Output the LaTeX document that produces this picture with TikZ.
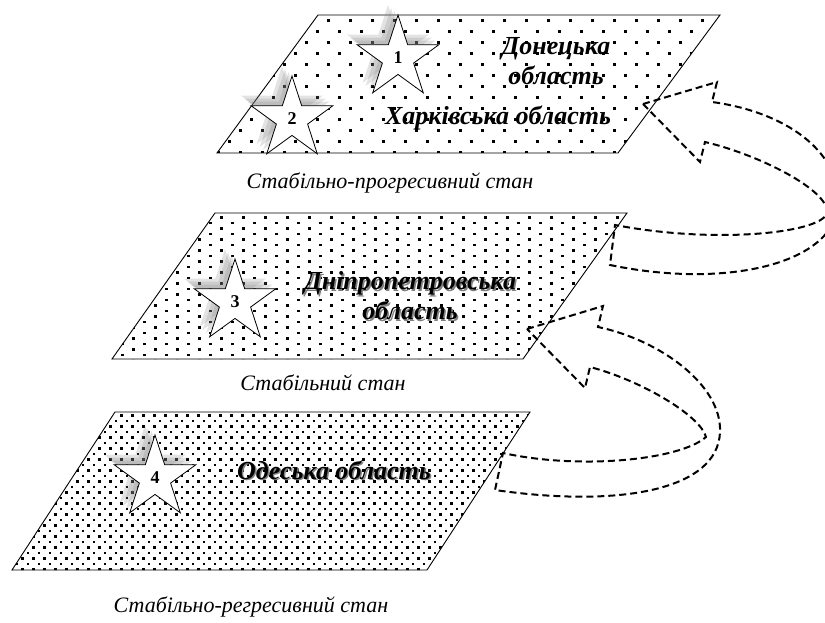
\documentclass[tikz,border=0pt]{standalone}
\usepackage{fontspec}
\setmainfont{Liberation Serif}
\usetikzlibrary{shapes.geometric}
\usetikzlibrary{positioning}

\tikzset{
  plane/.style={draw=black, line width=0.9pt},
  zirka/.style={star, star points=5, star point ratio=2.618, inner sep=0pt,
    minimum size=86pt, draw=black, line width=0.8pt, fill=white,
    font=\bfseries\fontsize{18}{18}\selectfont},
  zirkatin/.style={star, star points=5, star point ratio=2.618, inner sep=0pt,
    minimum size=86pt, draw=none, fill=gray, fill opacity=0.22},
  oblast/.style={font=\bfseries\itshape\fontsize{26}{30}\selectfont, align=center, inner sep=0pt},
  stan/.style={font=\itshape\fontsize{22}{24}\selectfont, inner sep=0pt},
  perehid/.style={draw=black, line width=2pt, dash pattern=on 7pt off 4pt},
}

\begin{document}
\begin{tikzpicture}[x=1pt,y=-1pt]
  \useasboundingbox (0,0) rectangle (825,623);
  \clip (0,0) rectangle (825,623);

  % dots
  \begin{scope}
    \clip (318,15) -- (720,15) -- (618,153) -- (217,153) -- cycle;
    \foreach \r in {0,...,12}
      \foreach \c in {0,...,23}
        \fill ({217+\c*22+mod(\r,2)*11},{19+\r*11}) rectangle ++(2.6,2.6);
  \end{scope}
  \begin{scope}
    \clip (215,213) -- (627,213) -- (523,359) -- (112,359) -- cycle;
    \foreach \r in {0,...,26}
      \foreach \c in {0,...,23}
        \fill ({110+\c*22+mod(\r,2)*11},{216+\r*5.5}) rectangle ++(2.6,2.6);
  \end{scope}
  \begin{scope}
    \clip (115,412) -- (530,412) -- (427,570) -- (12,570) -- cycle;
    \foreach \r in {0,...,28}
      \foreach \c in {0,...,47}
        \fill ({10+\c*11+mod(\r,2)*5.5},{414+\r*5.5}) rectangle ++(2.5,2.5);
  \end{scope}

  \draw[plane] (318,15) -- (720,15) -- (618,153) -- (217,153) -- cycle;
  \draw[plane] (215,213) -- (627,213) -- (523,359) -- (112,359) -- cycle;
  \draw[plane] (115,412) -- (530,412) -- (427,570) -- (12,570) -- cycle;

  % stars
  \foreach \sx/\sy/\n in {398/57/1, 292/118/2, 235/301/3, 155/477/4} {
    \node[zirkatin] at (\sx-10,\sy-9) {};
    \node[zirkatin] at (\sx-7,\sy-6) {};
    \node[zirkatin] at (\sx-3.5,\sy-3) {};
    \node[zirka] (zirka\n) at (\sx,\sy+1) {\n};
  }

  \node[oblast] (donetsk) at (556,61) {Донецька\\область};
  \node[oblast] (kharkiv) at (498,118) {Харківська область};
  \node[oblast, text=gray] at (411.5,297.5) {Дніпропетровська\\область};
  \node[oblast] (dnipro) at (410,296) {Дніпропетровська\\область};
  \node[oblast, text=gray] at (335.5,471.5) {Одеська область};
  \node[oblast] (odesa) at (334,470) {Одеська область};

  \node[stan] (stanA) at (390,183) {Стабільно-прогресивний стан};
  \node[stan] (stanB) at (323,383) {Стабільний стан};
  \node[stan] (stanC) at (251,607) {Стабільно-регресивний стан};

  % arrows
  \draw[perehid] (643,104) -- (717,82) -- (712,102)
    .. controls (785,112) and (838,150) .. (838,200)
    .. controls (840,262) and (730,290) .. (610,265)
    -- (615,225)
    .. controls (720,245) and (826,232) .. (827,212)
    .. controls (828,190) and (760,155) .. (705,142)
    -- (700,162) -- cycle;
  \draw[perehid] (527,329) -- (603,306) -- (598,327)
    .. controls (660,340) and (722,385) .. (720,432)
    .. controls (718,490) and (620,508) .. (495,490)
    -- (503,453)
    .. controls (580,470) and (680,460) .. (706,437)
    .. controls (700,415) and (640,380) .. (590,367)
    -- (585,388) -- cycle;
\end{tikzpicture}
\end{document}
